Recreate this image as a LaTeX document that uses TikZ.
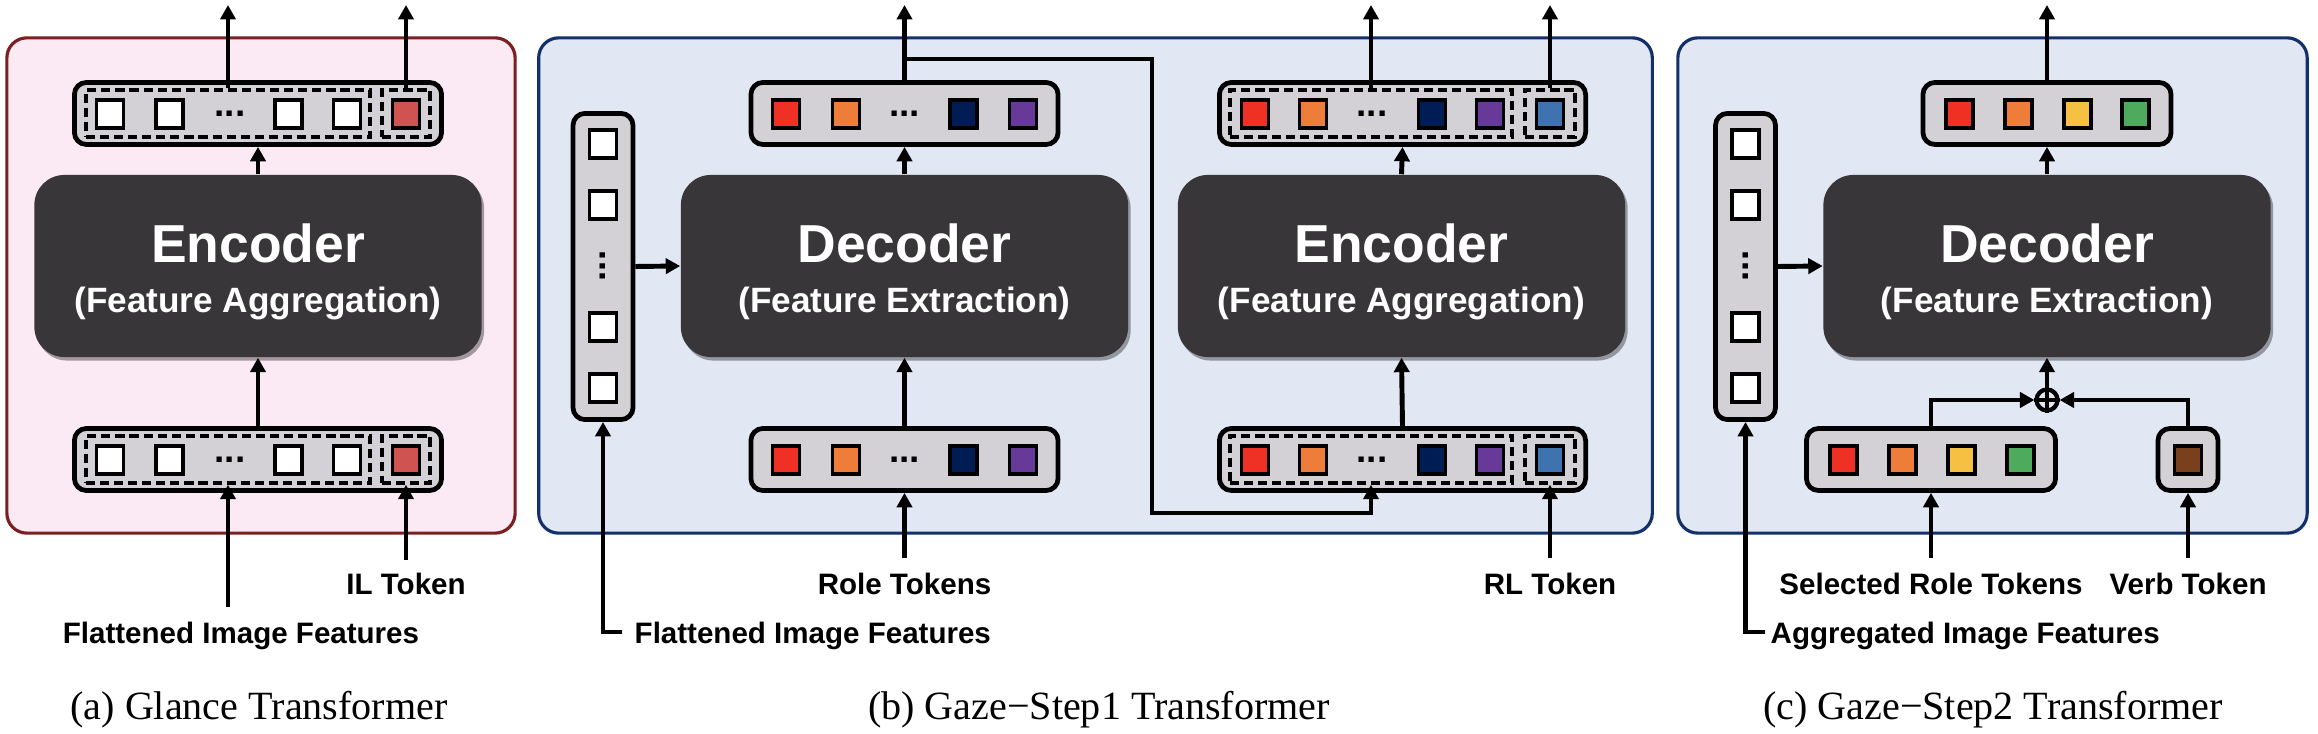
\documentclass[tikz,border=0pt]{standalone}
\usepackage{fontspec}
\setmainfont{Liberation Serif}
\newfontfamily\lsans{Liberation Sans}
\usetikzlibrary{arrows.meta,shadows}
\definecolor{pinkfill}{HTML}{FBE9F4}
\definecolor{pinkline}{HTML}{7A1F22}
\definecolor{bluefill}{HTML}{E1E7F3}
\definecolor{blueline}{HTML}{14306B}
\definecolor{barfill}{HTML}{D3D1D6}
\definecolor{encfill}{HTML}{383638}
\definecolor{tred}{HTML}{EE3124}
\definecolor{tilred}{HTML}{CF5350}
\definecolor{torange}{HTML}{EF7D3A}
\definecolor{tnavy}{HTML}{001C54}
\definecolor{tpurple}{HTML}{673A9A}
\definecolor{tblue}{HTML}{3F73B0}
\definecolor{tyellow}{HTML}{F6C142}
\definecolor{tgreen}{HTML}{4EAA5C}
\definecolor{tbrown}{HTML}{7A3F1C}
\begin{document}
\begin{tikzpicture}[x=0.01cm,y=-0.01cm,
 panel/.style={draw, line width=0.9pt, rounded corners=0.2cm, inner sep=0, minimum height=4.95cm},
 bar/.style={draw=black, fill=barfill, line width=1.35pt, rounded corners=0.12cm, inner sep=0, minimum height=0.62cm},
 dbox/.style={draw=black, dash pattern=on 2.6pt off 1.4pt, line width=1pt, inner sep=0, minimum height=0.47cm},
 tok/.style={draw=black, line width=1.1pt, minimum width=0.27cm, minimum height=0.28cm, inner sep=0},
 enc/.style={fill=encfill, rounded corners=0.3cm, minimum width=4.47cm, minimum height=1.82cm, inner sep=0,
   drop shadow={shadow xshift=0.025cm, shadow yshift=-0.035cm, opacity=0.35, fill=black}},
 bigt/.style={text=white, font=\lsans\bfseries\fontsize{15.2pt}{17pt}\selectfont, inner sep=0, anchor=base},
 subt/.style={text=white, font=\lsans\bfseries\fontsize{10pt}{12pt}\selectfont, inner sep=0, anchor=base},
 arr/.style={line width=1.4pt, -{Triangle[width=4.3pt,length=4.1pt]}},
 lbl/.style={font=\lsans\bfseries\fontsize{8.4pt}{10pt}\selectfont, inner sep=0, anchor=base},
 captxt/.style={font=\fontsize{11.4pt}{13pt}\selectfont, inner sep=0, anchor=base},
 tdots/.style={font=\lsans\bfseries\fontsize{10.5pt}{12pt}\selectfont, inner sep=0},
 opl/.style={draw=black, line width=1.2pt, circle, minimum size=0.21cm, inner sep=0}
]
\useasboundingbox (0,0) rectangle (2318,734);

% ---------- panels ----------
\node[panel, draw=pinkline, fill=pinkfill, minimum width=5.08cm] (pA) at (261,285.5) {};
\node[panel, draw=blueline, fill=bluefill, minimum width=11.13cm] (pB) at (1095.5,285.5) {};
\node[panel, draw=blueline, fill=bluefill, minimum width=6.29cm] (pC) at (1992.5,285.5) {};

% ================= (a) Glance =================
\node[enc] (encA) at (258,266) {};
\node[bigt] (encAt) at (258,263) {Encoder};
\node[subt] (encAs) at (258,313) {(Feature Aggregation)};

\node[bar, minimum width=3.67cm] (aTop) at (258,113.5) {};
\node[dbox, minimum width=2.84cm] (aTopD1) at (228,113.5) {};
\node[dbox, minimum width=0.48cm] (aTopD2) at (406,113.5) {};
\node[tok, fill=white] (aT1) at (110,114) {};
\node[tok, fill=white] (aT2) at (169.5,114) {};
\node[tdots] (aTd) at (230,114) {...};
\node[tok, fill=white] (aT3) at (288.5,114) {};
\node[tok, fill=white] (aT4) at (347,114) {};
\node[tok, fill=tilred] (aT5) at (406,114) {};

\node[bar, minimum width=3.67cm] (aBot) at (258,459.5) {};
\node[dbox, minimum width=2.84cm] (aBotD1) at (228,459.5) {};
\node[dbox, minimum width=0.48cm] (aBotD2) at (406,459.5) {};
\node[tok, fill=white] (aB1) at (110,460) {};
\node[tok, fill=white] (aB2) at (169.5,460) {};
\node[tdots] (aBd) at (230,460) {...};
\node[tok, fill=white] (aB3) at (288.5,460) {};
\node[tok, fill=white] (aB4) at (347,460) {};
\node[tok, fill=tilred] (aB5) at (406,460) {};

\coordinate (aOut1) at (228,5);
\coordinate (aOut2) at (406,5);
\coordinate (aFlat) at (228,607);
\coordinate (aIL) at (406,560);
\draw[arr] (aTopD1.north) -- (aOut1);
\draw[arr] (aTopD2.north) -- (aOut2);
\draw[arr] (encA.north) -- (aTop.south);
\draw[arr] (aBot.north) -- (encA.south);
\draw[arr] (aFlat) -- (aBotD1.south);
\draw[arr] (aIL) -- (aBotD2.south);
\node[lbl] (aILl) at (406,595) {IL Token};
\node[lbl] (aFlatl) at (241,644) {Flattened Image Features};
\node[captxt] (capA) at (259,720) {(a) Glance Transformer};

% ================= (b) Gaze-Step1 =================
\node[bar, minimum width=0.60cm, minimum height=3.06cm] (bV) at (603,266.5) {};
\node[tok, fill=white] (bV1) at (603,144) {};
\node[tok, fill=white] (bV2) at (603,205) {};
\node[tdots, rotate=90] (bVd) at (603,266) {...};
\node[tok, fill=white] (bV3) at (603,327) {};
\node[tok, fill=white] (bV4) at (603,388) {};

\node[enc] (decB) at (904.5,266) {};
\node[bigt] (decBt) at (904.5,263) {Decoder};
\node[subt] (decBs) at (904.5,313) {(Feature Extraction)};

\node[bar, minimum width=3.07cm] (bTop) at (904.5,113.5) {};
\node[tok, fill=tred] (bT1) at (786,114) {};
\node[tok, fill=torange] (bT2) at (846,114) {};
\node[tdots] (bTd) at (904.5,114) {...};
\node[tok, fill=tnavy] (bT3) at (963.5,114) {};
\node[tok, fill=tpurple] (bT4) at (1023,114) {};

\node[bar, minimum width=3.07cm] (bBot) at (904.5,459.5) {};
\node[tok, fill=tred] (bB1) at (786,460) {};
\node[tok, fill=torange] (bB2) at (846,460) {};
\node[tdots] (bBd) at (904.5,460) {...};
\node[tok, fill=tnavy] (bB3) at (963.5,460) {};
\node[tok, fill=tpurple] (bB4) at (1023,460) {};

\node[enc] (encB) at (1401.5,266) {};
\node[bigt] (encBt) at (1401.5,263) {Encoder};
\node[subt] (encBs) at (1401.5,313) {(Feature Aggregation)};

\node[bar, minimum width=3.66cm] (eTop) at (1402.5,113.5) {};
\node[dbox, minimum width=2.82cm] (eTopD1) at (1371,113.5) {};
\node[dbox, minimum width=0.50cm] (eTopD2) at (1550,113.5) {};
\node[tok, fill=tred] (eT1) at (1255,114) {};
\node[tok, fill=torange] (eT2) at (1313,114) {};
\node[tdots] (eTd) at (1372,114) {...};
\node[tok, fill=tnavy] (eT3) at (1432,114) {};
\node[tok, fill=tpurple] (eT4) at (1490,114) {};
\node[tok, fill=tblue] (eT5) at (1550,114) {};

\node[bar, minimum width=3.66cm] (eBot) at (1402.5,459.5) {};
\node[dbox, minimum width=2.82cm] (eBotD1) at (1371,459.5) {};
\node[dbox, minimum width=0.50cm] (eBotD2) at (1550,459.5) {};
\node[tok, fill=tred] (eB1) at (1255,460) {};
\node[tok, fill=torange] (eB2) at (1313,460) {};
\node[tdots] (eBd) at (1372,460) {...};
\node[tok, fill=tnavy] (eB3) at (1432,460) {};
\node[tok, fill=tpurple] (eB4) at (1490,460) {};
\node[tok, fill=tblue] (eB5) at (1550,460) {};

\coordinate (bOut) at (904.5,5);
\coordinate (bBr) at (904.5,59);
\coordinate (bLoop) at (1152,513);
\coordinate (eOut1) at (1371,5);
\coordinate (eOut2) at (1550,5);
\coordinate (bRole) at (904.5,558);
\coordinate (bRL) at (1550,558);
\coordinate (bFlat) at (622,632);
\draw[arr] (bTop.north) -- (bOut);
\draw[arr] (bBr) -| (bLoop) -| (eBotD1.south);
\draw[arr] (decB.north) -- (bTop.south);
\draw[arr] (bBot.north) -- (decB.south);
\draw[arr] (bRole) -- (bBot.south);
\draw[arr] (bV.east) -- (decB.west);
\draw[arr] (bFlat) -| (bV.south);
\draw[arr] (eTopD1.north) -- (eOut1);
\draw[arr] (eTopD2.north) -- (eOut2);
\draw[arr] (encB.north) -- (eTop.south);
\draw[arr] (eBot.north) -- (encB.south);
\draw[arr] (bRL) -- (eBotD2.south);
\node[lbl] (bRolel) at (904.5,595) {Role Tokens};
\node[lbl] (bRLl) at (1550,595) {RL Token};
\node[lbl, anchor=base west] (bFlatl) at (634,644) {Flattened Image Features};
\node[captxt] (capB) at (1099,720) {(b) Gaze−Step1 Transformer};

% ================= (c) Gaze-Step2 =================
\node[bar, minimum width=0.60cm, minimum height=3.06cm] (cV) at (1745.5,266.5) {};
\node[tok, fill=white] (cV1) at (1745.5,144) {};
\node[tok, fill=white] (cV2) at (1745.5,205) {};
\node[tdots, rotate=90] (cVd) at (1745.5,266) {...};
\node[tok, fill=white] (cV3) at (1745.5,327) {};
\node[tok, fill=white] (cV4) at (1745.5,388) {};

\node[enc] (decC) at (2047,266) {};
\node[bigt] (decCt) at (2047,263) {Decoder};
\node[subt] (decCs) at (2047,313) {(Feature Extraction)};

\node[bar, minimum width=2.48cm] (cTop) at (2047,113.5) {};
\node[tok, fill=tred] (cT1) at (1959.5,114) {};
\node[tok, fill=torange] (cT2) at (2018.5,114) {};
\node[tok, fill=tyellow] (cT3) at (2077.5,114) {};
\node[tok, fill=tgreen] (cT4) at (2135.5,114) {};

\node[bar, minimum width=2.49cm] (cSel) at (1931,459.5) {};
\node[tok, fill=tred] (cS1) at (1843.5,460) {};
\node[tok, fill=torange] (cS2) at (1902.5,460) {};
\node[tok, fill=tyellow] (cS3) at (1961.5,460) {};
\node[tok, fill=tgreen] (cS4) at (2020.5,460) {};

\node[bar, minimum width=0.60cm] (cVerb) at (2188,459.5) {};
\node[tok, fill=tbrown] (cVb) at (2188,460) {};

\node[opl] (op) at (2047,400) {};
\draw[line width=1.2pt] (op.north) -- (op.south) (op.west) -- (op.east);

\coordinate (cOut) at (2047,5);
\coordinate (cSelIn) at (1931,558);
\coordinate (cVerbIn) at (2188,558);
\coordinate (cAgg) at (1765,632);
\draw[arr] (cTop.north) -- (cOut);
\draw[arr] (decC.north) -- (cTop.south);
\draw[arr] (op.north) -- (decC.south);
\draw[arr] (cSel.north) |- (op.west);
\draw[arr] (cVerb.north) |- (op.east);
\draw[arr] (cSelIn) -- (cSel.south);
\draw[arr] (cVerbIn) -- (cVerb.south);
\draw[arr] (cV.east) -- (decC.west);
\draw[arr] (cAgg) -| (cV.south);
\node[lbl] (cSell) at (1931,595) {Selected Role Tokens};
\node[lbl] (cVerbl) at (2188,595) {Verb Token};
\node[lbl, anchor=base west] (cAggl) at (1770,644) {Aggregated Image Features};
\node[captxt] (capC) at (1993,720) {(c) Gaze−Step2 Transformer};
\end{tikzpicture}
\end{document}
